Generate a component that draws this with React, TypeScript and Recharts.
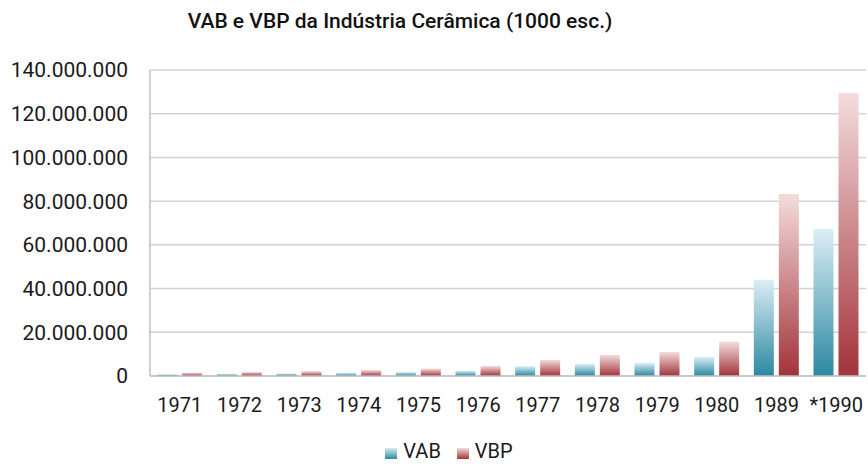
import React from 'react';
import { BarChart, Bar, XAxis, YAxis, CartesianGrid } from 'recharts';

const categories = ['1971', '1972', '1973', '1974', '1975', '1976', '1977', '1978', '1979', '1980', '1989', '*1990'];
const vab = [800000, 1000000, 1200000, 1500000, 1800000, 2400000, 4500000, 5600000, 6000000, 8700000, 44000000, 67300000];
const vbp = [1500000, 1800000, 2200000, 2700000, 3400000, 4600000, 7400000, 9600000, 11000000, 15700000, 83300000, 129500000];
const yTicks = [0, 20000000, 40000000, 60000000, 80000000, 100000000, 120000000, 140000000];

const data = categories.map((c, i) => ({ year: c, VAB: vab[i], VBP: vbp[i] }));

const fmt = (v: number) => String(v).replace(/\B(?=(\d{3})+(?!\d))/g, '.');

const FONT = 'Roboto, "Liberation Sans", Arial, sans-serif';

export default function App() {
  return (
    <div style={{ position: 'absolute', left: 0, top: 0, width: 868, height: 464, background: '#fff' }}>
      <div style={{ position: 'absolute', left: 0, width: 800, top: 9, textAlign: 'center', fontFamily: FONT, fontWeight: 500, fontSize: 21, color: '#111' }}>
        VAB e VBP da Indústria Cerâmica (1000 esc.)
      </div>
      <BarChart width={868} height={464} data={data} margin={{ top: 70, right: 2, left: 0, bottom: 58 }} barGap={5} barCategoryGap="12%">
        <defs>
          <linearGradient id="gVAB" x1="0" y1="0" x2="0" y2="1">
            <stop offset="0%" stopColor="#dceef5" />
            <stop offset="100%" stopColor="#2a88a1" />
          </linearGradient>
          <linearGradient id="gVBP" x1="0" y1="0" x2="0" y2="1">
            <stop offset="0%" stopColor="#f4dcdc" />
            <stop offset="100%" stopColor="#a2333a" />
          </linearGradient>
        </defs>
        <CartesianGrid vertical={false} stroke="#d3d3d3" strokeWidth={1.5} />
        <XAxis dataKey="year" height={30} tickLine={false} axisLine={{ stroke: '#c0c0c0', strokeWidth: 1.5 }} tick={{ fill: '#1a1a1a', fontSize: 20, fontFamily: FONT }} tickMargin={16} interval={0} />
        <YAxis width={150} domain={[0, 140000000]} ticks={yTicks} tickFormatter={fmt} tickLine={false} axisLine={{ stroke: '#c0c0c0', strokeWidth: 1.5 }} tick={{ fill: '#1a1a1a', fontSize: 21, fontFamily: FONT }} tickMargin={16} interval={0} />
        <Bar dataKey="VAB" fill="url(#gVAB)" isAnimationActive={false} />
        <Bar dataKey="VBP" fill="url(#gVBP)" isAnimationActive={false} />
      </BarChart>
      <div style={{ position: 'absolute', left: 0, width: 898, top: 439, display: 'flex', justifyContent: 'center', alignItems: 'center', fontFamily: FONT, fontSize: 20, color: '#1a1a1a' }}>
        <span style={{ display: 'inline-block', width: 12, height: 11, background: 'linear-gradient(#d8ecf3, #2b8aa2)', marginRight: 6, marginTop: 5 }} />
        <span style={{ marginRight: 16 }}>VAB</span>
        <span style={{ display: 'inline-block', width: 12, height: 11, background: 'linear-gradient(#f3dada, #a3363a)', marginRight: 6, marginTop: 5 }} />
        <span>VBP</span>
      </div>
    </div>
  );
}
